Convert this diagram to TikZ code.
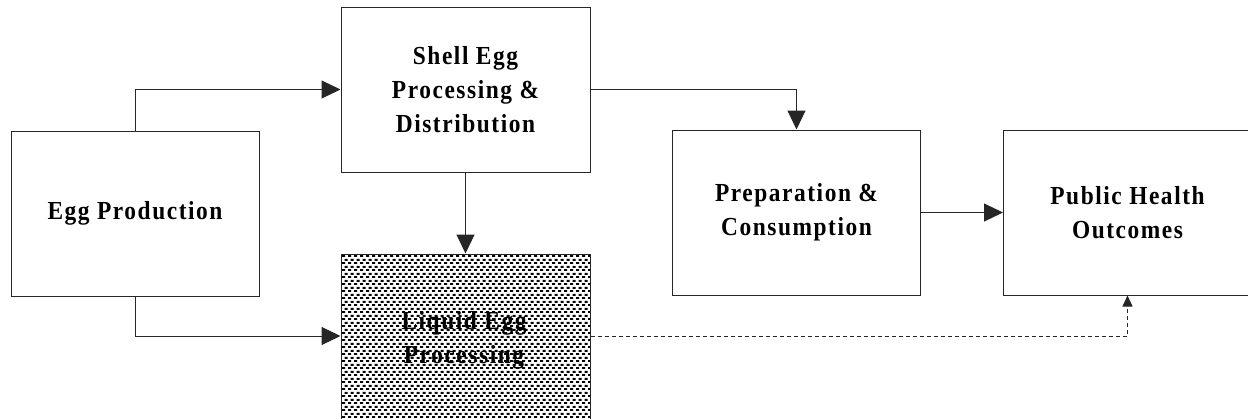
\documentclass[tikz,border=0pt]{standalone}
\usepackage{fontspec}
\usetikzlibrary{arrows.meta,patterns}
\newfontfamily\fontA{Liberation Serif}[BoldFont={* Bold},LetterSpace=6,FakeStretch=0.9]
\pgfdeclarepatternformonly{eggbricks}{\pgfpointorigin}{\pgfpoint{6pt}{6.6pt}}{\pgfpoint{6pt}{6.6pt}}{%
  \pgfpathrectangle{\pgfpoint{0pt}{0pt}}{\pgfpoint{3.5pt}{2pt}}%
  \pgfpathrectangle{\pgfpoint{3pt}{3.3pt}}{\pgfpoint{3.5pt}{2pt}}%
  \pgfusepath{fill}}
\tikzset{
  box/.style={draw=black!85, line width=1pt, rectangle, inner sep=0pt},
  txt/.style={align=center, font=\fontA\bfseries\fontsize{26}{34}\selectfont},
  arr/.style={draw=black!85, line width=1pt, -{Triangle[length=19pt,width=18pt]}},
  darr/.style={draw=black!85, line width=0.8pt, dashed, dash pattern=on 4pt off 3pt, -{Triangle[length=11pt,width=10pt]}},
}
\begin{document}
\begin{tikzpicture}[x=1pt,y=-1pt]
\useasboundingbox (0,0) rectangle (1248,418);
\begin{scope}
\clip (0,0) rectangle (1248,418);
\node[box, minimum width=248pt, minimum height=165pt, txt] (egg) at (135,213.5) {Egg Production};
\node[box, minimum width=249pt, minimum height=165pt, txt] (shell) at (465.5,89.5) {Shell Egg\\Processing \&\\Distribution};
\node[box, minimum width=249pt, minimum height=165pt, pattern=eggbricks, pattern color=black] (liquid) at (465.5,336.5) {};
\node[txt] (liquidt) at (464,340) {Liquid Egg\\Processing};
\node[box, minimum width=248pt, minimum height=165pt, txt] (prep) at (796.5,212.5) {Preparation \&\\Consumption};
\node[box, minimum width=248pt, minimum height=165pt, txt] (public) at (1127.5,212.5) {Public Health\\Outcomes};
\draw[arr] (egg.north) |- (shell.west);
\draw[arr] (egg.south) |- ([yshift=0.5pt]liquid.west);
\draw[arr] (shell.south) -- (liquid.north);
\draw[arr] (shell.east) -| (prep.north);
\draw[arr] (prep.east) -- (public.west);
\draw[darr] ([yshift=0.5pt]liquid.east) -| (public.south);
\end{scope}
\end{tikzpicture}
\end{document}
